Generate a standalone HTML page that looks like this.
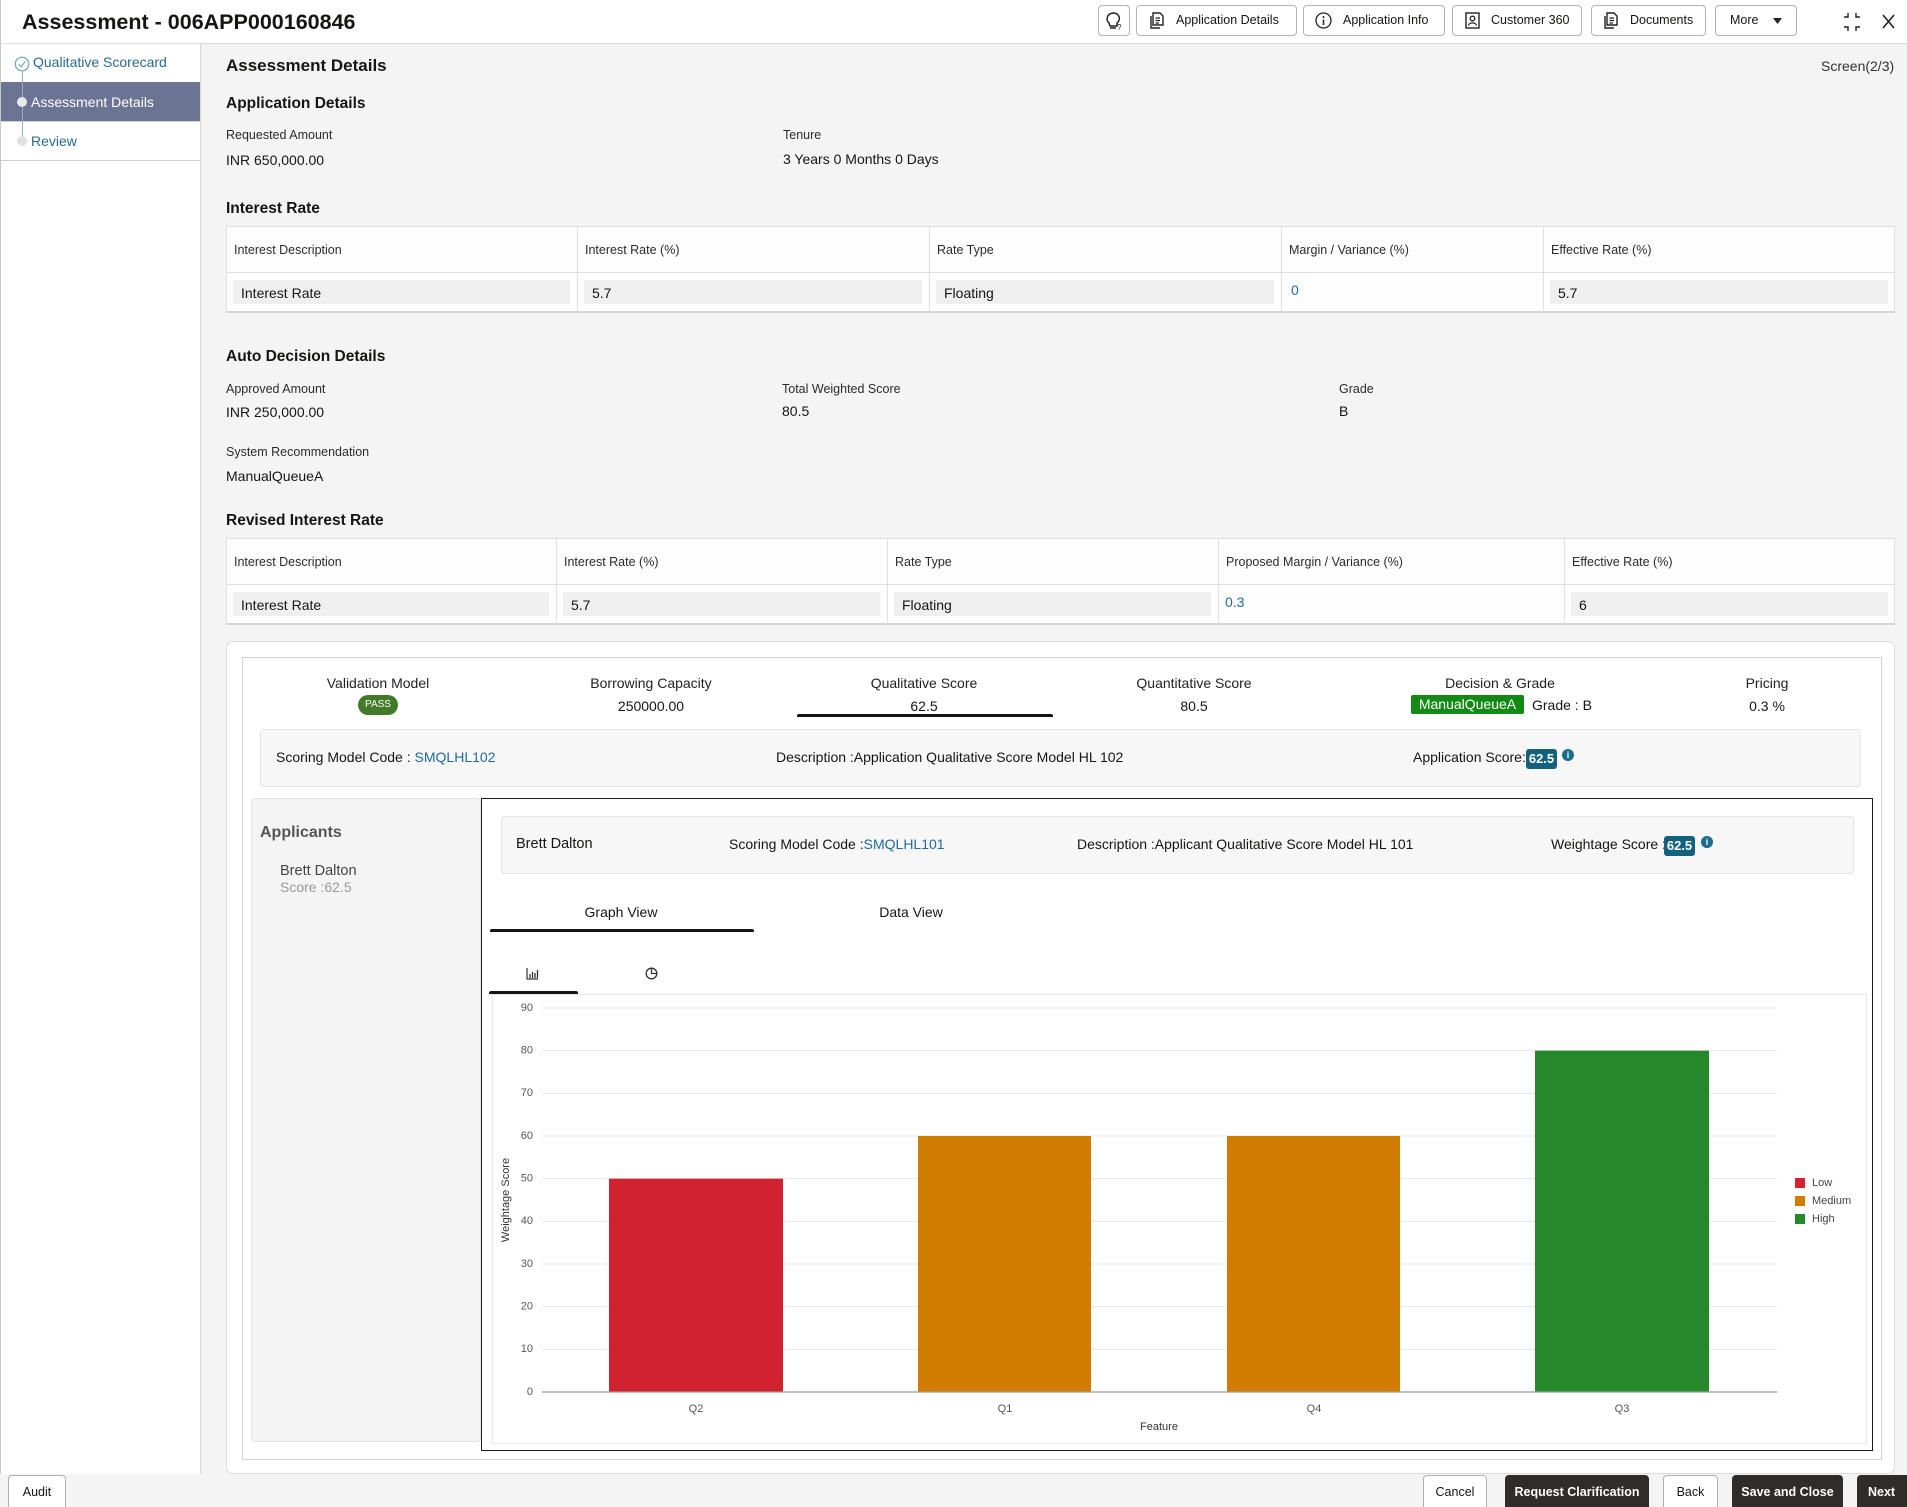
<!DOCTYPE html>
<html>
<head>
<meta charset="utf-8">
<style>
*{margin:0;padding:0;box-sizing:border-box}
html,body{width:1907px;height:1507px;overflow:hidden;background:#f4f4f4}
body{font-family:"Liberation Sans",Arial,sans-serif;color:#161513;position:relative}
.a{position:absolute}
.t{position:absolute;white-space:nowrap;line-height:20px;font-size:14px}
.hb{position:absolute;top:5px;height:31px;border:1px solid #b3b3b3;border-radius:4px;background:#fff}
.hbt{position:absolute;top:5px;line-height:31px;font-size:12.5px;color:#161513;white-space:nowrap}
.lbl{font-size:12.5px;color:#2b2b2b}
.h2{font-weight:bold;font-size:15.5px}
.tbl{position:absolute;background:rgba(255,255,255,.8);border:1px solid #dedede;border-bottom:2px solid #d4d4d4}
.vl{position:absolute;width:1px;background:#e0e0e0}
.inp{position:absolute;background:#efefef;border-radius:2px;height:24px}
.blue{color:#1f6b98}
.fb{position:absolute;top:1475px;height:40px;border:1px solid #b0b0b0;border-radius:4px;background:#fff;font-size:12.5px;text-align:center;line-height:33px;white-space:nowrap;color:#161513}
.fb.dk{background:#2f2c2a;border-color:#2f2c2a;color:#fff;font-weight:bold}
.badge{position:absolute;background:#14617f;color:#fff;font-weight:bold;font-size:13px;text-align:center;border-radius:3px;line-height:20px}
.info{position:absolute;width:12px;height:12px;border-radius:50%;background:#1e6c8c;color:#fff;font-size:9px;font-weight:bold;text-align:center;line-height:12px}
</style>
</head>
<body>

<!-- header -->
<div class="a" style="left:0;top:0;width:1907px;height:44px;background:#fff;border-bottom:1px solid #dcdcdc;border-left:1px solid #c8c8c8"></div>
<div class="t" style="left:22px;top:9px;line-height:26px;font-size:21.5px;font-weight:bold">Assessment - 006APP000160846</div>

<div class="hb" style="left:1098px;width:32px"></div>
<svg class="a" style="left:1104px;top:10px" width="20" height="22" viewBox="0 0 20 22"><path d="M5 13 C2 11 2 4 9 3 C16 3 17 10 13 13 L13 16 L6 16 Z" fill="none" stroke="#222" stroke-width="1.5"/><path d="M6 18 L12 18" stroke="#222" stroke-width="1.5"/><text x="13" y="20" font-size="8" font-family="Liberation Sans" fill="#222">?</text></svg>

<div class="hb" style="left:1136px;width:161px"></div>
<svg class="a" style="left:1150px;top:12px" width="14" height="17" viewBox="0 0 14 17"><path d="M3 1 H10 L13 4 V13 H3 Z" fill="none" stroke="#222" stroke-width="1.4"/><path d="M1 4 V16 H10" fill="none" stroke="#222" stroke-width="1.4"/><path d="M5.5 6 H10 M5.5 8.5 H10 M5.5 11 H9" stroke="#222" stroke-width="1.2"/></svg>
<div class="hbt" style="left:1176px">Application Details</div>

<div class="hb" style="left:1303px;width:142px"></div>
<svg class="a" style="left:1315px;top:12px" width="17" height="17" viewBox="0 0 17 17"><circle cx="8.5" cy="8.5" r="7.5" fill="none" stroke="#222" stroke-width="1.3"/><circle cx="8.5" cy="5" r="1" fill="#222"/><path d="M8.5 7.5 V13" stroke="#222" stroke-width="1.5"/></svg>
<div class="hbt" style="left:1343px">Application Info</div>

<div class="hb" style="left:1452px;width:130px"></div>
<svg class="a" style="left:1465px;top:12px" width="15" height="17" viewBox="0 0 15 17"><rect x="1" y="1" width="13" height="15" fill="none" stroke="#222" stroke-width="1.4"/><circle cx="7.5" cy="6.5" r="2.3" fill="none" stroke="#222" stroke-width="1.3"/><path d="M3.5 13.5 C4 10 11 10 11.5 13.5" fill="none" stroke="#222" stroke-width="1.3"/></svg>
<div class="hbt" style="left:1491px">Customer 360</div>

<div class="hb" style="left:1591px;width:115px"></div>
<svg class="a" style="left:1604px;top:12px" width="14" height="17" viewBox="0 0 14 17"><path d="M3 1 H10 L13 4 V13 H3 Z" fill="none" stroke="#222" stroke-width="1.4"/><path d="M1 4 V16 H10" fill="none" stroke="#222" stroke-width="1.4"/><path d="M5.5 6 H10 M5.5 8.5 H10 M5.5 11 H9" stroke="#222" stroke-width="1.2"/></svg>
<div class="hbt" style="left:1630px">Documents</div>

<div class="hb" style="left:1715px;width:82px"></div>
<div class="hbt" style="left:1730px">More</div>
<svg class="a" style="left:1773px;top:18px" width="10" height="7"><path d="M0 0 H9 L4.5 6 Z" fill="#222"/></svg>

<svg class="a" style="left:1843px;top:12px" width="18" height="20" viewBox="0 0 18 20"><path d="M5 1 V5 H1 M13 1 V5 H17 M1 15 H5 V19 M17 15 H13 V19" fill="none" stroke="#222" stroke-width="1.4"/></svg>
<svg class="a" style="left:1882px;top:14px" width="13" height="15" viewBox="0 0 13 15"><path d="M1 1 L12 14 M12 1 L1 14" stroke="#222" stroke-width="1.6"/></svg>

<!-- sidebar -->
<div class="a" style="left:0;top:44px;width:201px;height:1430px;background:#fff;border-right:1px solid #d8d8d8;border-left:1px solid #c8c8c8"></div>
<div class="a" style="left:1px;top:82px;width:199px;height:39px;background:#6b7593"></div>
<div class="a" style="left:1px;top:121px;width:199px;height:1px;background:#d0d0d0"></div>
<div class="a" style="left:1px;top:160px;width:199px;height:1px;background:#cfcfcf"></div>
<div class="a" style="left:21.5px;top:70px;width:1px;height:68px;background:#8db6c9"></div>
<svg class="a" style="left:14px;top:56px" width="16" height="16" viewBox="0 0 16 16"><circle cx="8" cy="8" r="6.8" fill="#fff" stroke="#6aa3bd" stroke-width="1.2"/><path d="M4.8 8.2 L7.2 10.5 L11.3 5.5" fill="none" stroke="#6aa3bd" stroke-width="1.2"/></svg>
<div class="a" style="left:17px;top:97px;width:10px;height:10px;border-radius:50%;background:#e9e9e9"></div>
<div class="a" style="left:17px;top:136px;width:10px;height:10px;border-radius:50%;background:#e0e0e0"></div>
<div class="t" style="left:33px;top:52px;color:#2a6a8c">Qualitative Scorecard</div>
<div class="t" style="left:31px;top:92px;color:#fff">Assessment Details</div>
<div class="t" style="left:31px;top:131px;color:#2a6a8c">Review</div>

<!-- content -->
<div class="t" style="left:226px;top:56px;font-weight:bold;font-size:17px">Assessment Details</div>
<div class="t" style="left:1821px;top:56px;color:#333">Screen(2/3)</div>
<div class="t h2" style="left:226px;top:94px">Application Details</div>
<div class="t lbl" style="left:226px;top:125px">Requested Amount</div>
<div class="t" style="left:226px;top:150px">INR 650,000.00</div>
<div class="t lbl" style="left:783px;top:125px">Tenure</div>
<div class="t" style="left:783px;top:149px">3 Years 0 Months 0 Days</div>

<div class="t h2" style="left:226px;top:199px">Interest Rate</div>
<div class="tbl" style="left:226px;top:226px;width:1669px;height:87px"></div>
<div class="a" style="left:227px;top:272px;width:1667px;height:1px;background:#e0e0e0"></div>
<div class="vl" style="left:577px;top:227px;height:85px"></div>
<div class="vl" style="left:929px;top:227px;height:85px"></div>
<div class="vl" style="left:1281px;top:227px;height:85px"></div>
<div class="vl" style="left:1543px;top:227px;height:85px"></div>
<div class="t lbl" style="left:234px;top:240px">Interest Description</div>
<div class="t lbl" style="left:585px;top:240px">Interest Rate (%)</div>
<div class="t lbl" style="left:937px;top:240px">Rate Type</div>
<div class="t lbl" style="left:1289px;top:240px">Margin / Variance (%)</div>
<div class="t lbl" style="left:1551px;top:240px">Effective Rate (%)</div>
<div class="inp" style="left:233px;top:280px;width:337px"></div>
<div class="inp" style="left:584px;top:280px;width:338px"></div>
<div class="inp" style="left:936px;top:280px;width:338px"></div>
<div class="inp" style="left:1550px;top:280px;width:338px"></div>
<div class="t" style="left:241px;top:283px">Interest Rate</div>
<div class="t" style="left:592px;top:283px">5.7</div>
<div class="t" style="left:944px;top:283px">Floating</div>
<div class="t blue" style="left:1291px;top:280px">0</div>
<div class="t" style="left:1558px;top:283px">5.7</div>

<div class="t h2" style="left:226px;top:347px">Auto Decision Details</div>
<div class="t lbl" style="left:226px;top:379px">Approved Amount</div>
<div class="t" style="left:226px;top:402px">INR 250,000.00</div>
<div class="t lbl" style="left:782px;top:379px">Total Weighted Score</div>
<div class="t" style="left:782px;top:401px">80.5</div>
<div class="t lbl" style="left:1339px;top:379px">Grade</div>
<div class="t" style="left:1339px;top:401px">B</div>
<div class="t lbl" style="left:226px;top:442px">System Recommendation</div>
<div class="t" style="left:226px;top:466px">ManualQueueA</div>

<div class="t h2" style="left:226px;top:511px">Revised Interest Rate</div>
<div class="tbl" style="left:226px;top:538px;width:1669px;height:87px"></div>
<div class="a" style="left:227px;top:584px;width:1667px;height:1px;background:#e0e0e0"></div>
<div class="vl" style="left:556px;top:539px;height:85px"></div>
<div class="vl" style="left:887px;top:539px;height:85px"></div>
<div class="vl" style="left:1218px;top:539px;height:85px"></div>
<div class="vl" style="left:1564px;top:539px;height:85px"></div>
<div class="t lbl" style="left:234px;top:552px">Interest Description</div>
<div class="t lbl" style="left:564px;top:552px">Interest Rate (%)</div>
<div class="t lbl" style="left:895px;top:552px">Rate Type</div>
<div class="t lbl" style="left:1226px;top:552px">Proposed Margin / Variance (%)</div>
<div class="t lbl" style="left:1572px;top:552px">Effective Rate (%)</div>
<div class="inp" style="left:233px;top:592px;width:316px"></div>
<div class="inp" style="left:563px;top:592px;width:317px"></div>
<div class="inp" style="left:894px;top:592px;width:317px"></div>
<div class="inp" style="left:1571px;top:592px;width:317px"></div>
<div class="t" style="left:241px;top:595px">Interest Rate</div>
<div class="t" style="left:571px;top:595px">5.7</div>
<div class="t" style="left:902px;top:595px">Floating</div>
<div class="t blue" style="left:1225px;top:592px">0.3</div>
<div class="t" style="left:1579px;top:595px">6</div>

<!-- big card -->
<div class="a" style="left:226px;top:641px;width:1669px;height:833px;background:#fff;border:1px solid #dcdcdc;border-radius:7px"></div>
<div class="a" style="left:242px;top:657px;width:1640px;height:803px;background:#fff;border:1px solid #d2d2d2"></div>

<div class="t" style="left:278px;top:673px;width:200px;text-align:center;color:#222">Validation Model</div>
<div class="a" style="left:358px;top:695px;width:40px;height:20px;border-radius:10px;background:#437a2a;color:#fff;font-size:10px;line-height:20px;text-align:center">PASS</div>
<div class="t" style="left:551px;top:673px;width:200px;text-align:center;color:#222">Borrowing Capacity</div>
<div class="t" style="left:551px;top:696px;width:200px;text-align:center">250000.00</div>
<div class="t" style="left:824px;top:673px;width:200px;text-align:center;color:#222">Qualitative Score</div>
<div class="t" style="left:824px;top:696px;width:200px;text-align:center">62.5</div>
<div class="a" style="left:797px;top:714px;width:256px;height:3px;background:#161513;border-radius:2px 2px 0 0"></div>
<div class="t" style="left:1094px;top:673px;width:200px;text-align:center;color:#222">Quantitative Score</div>
<div class="t" style="left:1094px;top:696px;width:200px;text-align:center">80.5</div>
<div class="t" style="left:1400px;top:673px;width:200px;text-align:center;color:#222">Decision &amp; Grade</div>
<div class="a" style="left:1411px;top:695px;width:113px;height:19px;background:#138a13;color:#fff;font-size:14px;line-height:19px;text-align:center;border-radius:2px">ManualQueueA</div>
<div class="t" style="left:1532px;top:695px">Grade : B</div>
<div class="t" style="left:1667px;top:673px;width:200px;text-align:center;color:#222">Pricing</div>
<div class="t" style="left:1667px;top:696px;width:200px;text-align:center">0.3 %</div>

<div class="a" style="left:260px;top:729px;width:1601px;height:58px;background:#f7f7f7;border:1px solid #e3e3e3;border-radius:4px"></div>
<div class="t" style="left:276px;top:747px">Scoring Model Code : <span class="blue">SMQLHL102</span></div>
<div class="t" style="left:776px;top:747px">Description :Application Qualitative Score Model HL 102</div>
<div class="t" style="left:1413px;top:747px">Application Score:</div>
<div class="badge" style="left:1526px;top:749px;width:31px;height:20px">62.5</div>
<div class="info" style="left:1562px;top:749px">i</div>

<!-- applicants -->
<div class="a" style="left:251px;top:798px;width:230px;height:644px;background:#f4f4f4;border:1px solid #e4e4e4;border-radius:4px"></div>
<div class="t" style="left:260px;top:823px;font-size:16px;font-weight:bold;color:#555">Applicants</div>
<div class="t" style="left:280px;top:861px;font-size:14.5px;color:#444">Brett Dalton</div>
<div class="t" style="left:280px;top:877px;font-size:14px;color:#9a9a9a">Score :62.5</div>

<div class="a" style="left:481px;top:798px;width:1392px;height:653px;background:#fff;border:1px solid #1a1a1a"></div>
<div class="a" style="left:501px;top:816px;width:1353px;height:58px;background:#f7f7f7;border:1px solid #e3e3e3;border-radius:4px"></div>
<div class="t" style="left:516px;top:834px;font-size:14.5px">Brett Dalton</div>
<div class="t" style="left:729px;top:834px">Scoring Model Code :<span class="blue">SMQLHL101</span></div>
<div class="t" style="left:1077px;top:834px">Description :Applicant Qualitative Score Model HL 101</div>
<div class="t" style="left:1551px;top:834px">Weightage Score :</div>
<div class="badge" style="left:1664px;top:836px;width:31px;height:20px">62.5</div>
<div class="info" style="left:1701px;top:836px">i</div>

<div class="t" style="left:521px;top:902px;width:200px;text-align:center">Graph View</div>
<div class="t" style="left:811px;top:902px;width:200px;text-align:center">Data View</div>
<div class="a" style="left:490px;top:929px;width:264px;height:3px;background:#161513;border-radius:2px 2px 0 0"></div>

<svg class="a" style="left:526px;top:967px" width="13" height="13" viewBox="0 0 13 13"><path d="M1 1 V12 H12" fill="none" stroke="#333" stroke-width="1.2"/><path d="M4 11 V7 M6.5 11 V5 M9 11 V6 M11.5 11 V3" stroke="#333" stroke-width="1.3"/></svg>
<svg class="a" style="left:645px;top:967px" width="13" height="13" viewBox="0 0 13 13"><circle cx="6.5" cy="6.5" r="5.3" fill="none" stroke="#333" stroke-width="1.3"/><path d="M6.5 1.2 V6.5 H11.8" fill="none" stroke="#333" stroke-width="1.3"/></svg>

<div class="a" style="left:492px;top:994px;width:1375px;height:450px;border:1px solid #e8e8e8"></div>
<div class="a" style="left:489px;top:991px;width:89px;height:3px;background:#161513;border-radius:2px 2px 0 0"></div>

<svg class="a" style="left:482px;top:995px" width="1384" height="448" viewBox="0 0 1384 448" font-family="Liberation Sans, Arial, sans-serif">
  <g stroke="#e6e6e6" stroke-width="1">
    <line x1="60" x2="1295" y1="13" y2="13"/>
    <line x1="60" x2="1295" y1="55.67" y2="55.67"/>
    <line x1="60" x2="1295" y1="98.33" y2="98.33"/>
    <line x1="60" x2="1295" y1="141" y2="141"/>
    <line x1="60" x2="1295" y1="183.67" y2="183.67"/>
    <line x1="60" x2="1295" y1="226.33" y2="226.33"/>
    <line x1="60" x2="1295" y1="269" y2="269"/>
    <line x1="60" x2="1295" y1="311.67" y2="311.67"/>
    <line x1="60" x2="1295" y1="354.33" y2="354.33"/>
  </g>
  <g font-size="11" fill="#555" text-anchor="end" dominant-baseline="middle">
    <text x="51" y="13">90</text>
    <text x="51" y="55.67">80</text>
    <text x="51" y="98.33">70</text>
    <text x="51" y="141">60</text>
    <text x="51" y="183.67">50</text>
    <text x="51" y="226.33">40</text>
    <text x="51" y="269">30</text>
    <text x="51" y="311.67">20</text>
    <text x="51" y="354.33">10</text>
    <text x="51" y="397">0</text>
  </g>
  <rect x="127" y="183.67" width="174" height="213.33" fill="#d2222f"/>
  <rect x="436" y="141" width="173" height="256" fill="#cf7c00"/>
  <rect x="745" y="141" width="173" height="256" fill="#cf7c00"/>
  <rect x="1053" y="55.67" width="174" height="341.33" fill="#25882a"/>
  <line x1="60" x2="1295" y1="397" y2="397" stroke="#9a9a9a" stroke-width="1.2"/>
  <g font-size="11" fill="#555" text-anchor="middle" dominant-baseline="middle">
    <text x="214" y="414">Q2</text>
    <text x="523" y="414">Q1</text>
    <text x="832" y="414">Q4</text>
    <text x="1140" y="414">Q3</text>
  </g>
  <text x="677" y="432" font-size="11" fill="#333" text-anchor="middle" dominant-baseline="middle">Feature</text>
  <text transform="translate(24,205) rotate(-90)" font-size="11" fill="#333" text-anchor="middle" dominant-baseline="middle">Weightage Score</text>
  <rect x="1313" y="183" width="10" height="10" fill="#d2222f"/>
  <rect x="1313" y="201" width="10" height="10" fill="#cf7c00"/>
  <rect x="1313" y="219" width="10" height="10" fill="#25882a"/>
  <g font-size="11" fill="#444" dominant-baseline="middle">
    <text x="1330" y="188">Low</text>
    <text x="1330" y="206">Medium</text>
    <text x="1330" y="224">High</text>
  </g>
</svg>

<!-- footer buttons -->
<div class="fb" style="left:8px;width:58px">Audit</div>
<div class="fb" style="left:1423px;width:64px">Cancel</div>
<div class="fb dk" style="left:1505px;width:144px">Request Clarification</div>
<div class="fb" style="left:1663px;width:55px">Back</div>
<div class="fb dk" style="left:1732px;width:111px">Save and Close</div>
<div class="fb dk" style="left:1857px;width:60px;text-align:left;padding-left:10px">Next</div>

</body>
</html>
